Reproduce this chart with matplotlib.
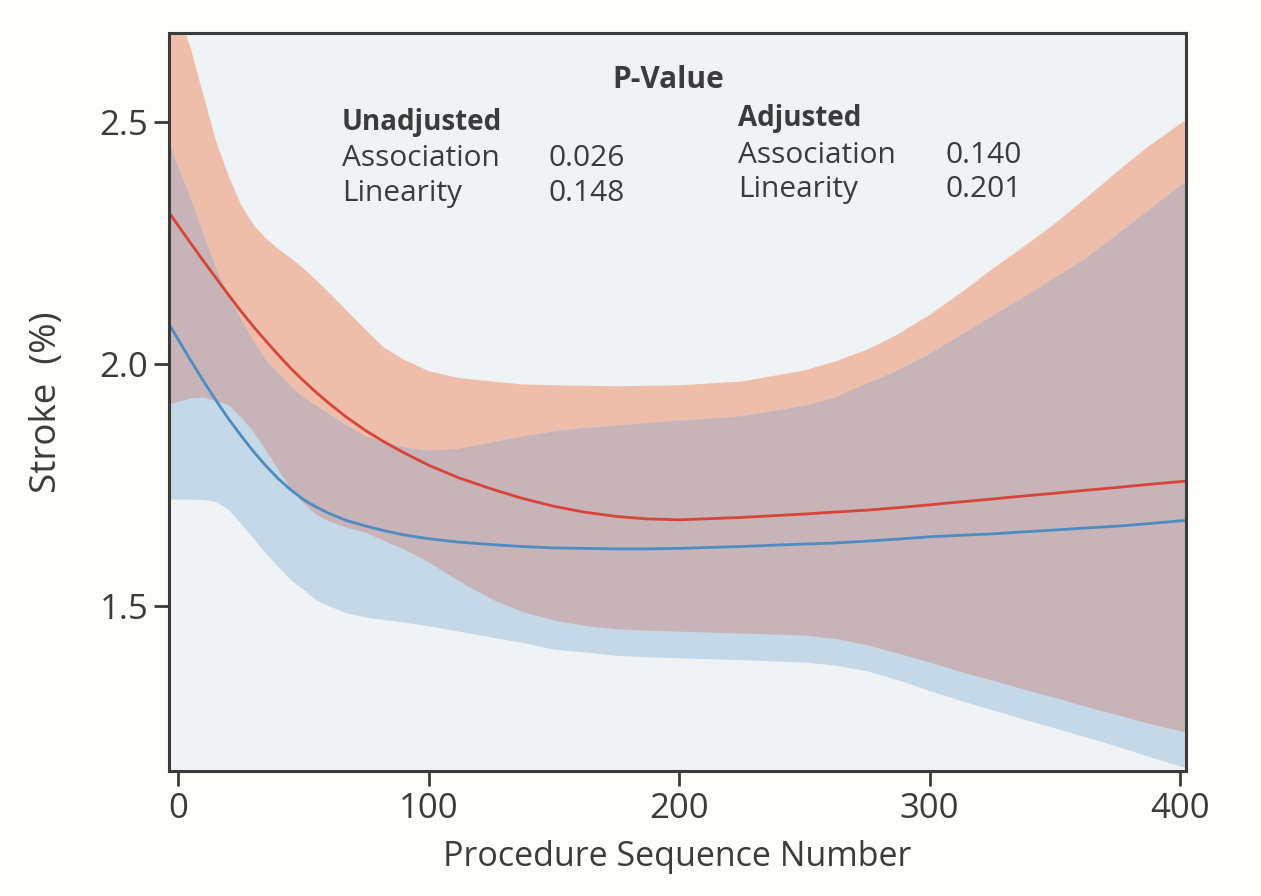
import numpy as np
import matplotlib
matplotlib.use("Agg")
import matplotlib.pyplot as plt

plt.rcParams['font.family'] = ['Open Sans', 'DejaVu Sans']

# procedure sequence number
seq = [-4, 5, 10, 15, 20, 25, 30, 35, 40, 45, 50, 55, 60, 67, 75, 82, 90, 100,
       112, 125, 137, 150, 162, 175, 187, 200, 225, 250, 262, 275, 287, 300,
       312, 325, 337, 350, 362, 375, 387, 400, 402]

# red curve (unadjusted) and its confidence band
red_fit = [2.316, 2.250, 2.214, 2.179, 2.144, 2.110, 2.078, 2.048, 2.019, 1.991,
           1.966, 1.942, 1.920, 1.891, 1.862, 1.840, 1.817, 1.791, 1.765, 1.742,
           1.723, 1.706, 1.694, 1.685, 1.680, 1.678, 1.683, 1.690, 1.694, 1.698,
           1.703, 1.709, 1.715, 1.721, 1.727, 1.733, 1.739, 1.745, 1.751, 1.757,
           1.758]
red_hi = [2.791, 2.651, 2.556, 2.461, 2.390, 2.330, 2.288, 2.260, 2.238, 2.219,
          2.198, 2.174, 2.149, 2.112, 2.070, 2.035, 2.010, 1.986, 1.972, 1.965,
          1.959, 1.957, 1.956, 1.955, 1.956, 1.957, 1.965, 1.988, 2.006, 2.031,
          2.062, 2.103, 2.147, 2.198, 2.242, 2.292, 2.343, 2.400, 2.450, 2.498,
          2.504]
red_lo = [1.917, 1.930, 1.932, 1.924, 1.916, 1.891, 1.860, 1.822, 1.781, 1.742,
          1.713, 1.690, 1.676, 1.663, 1.652, 1.636, 1.618, 1.591, 1.552, 1.515,
          1.489, 1.471, 1.460, 1.453, 1.450, 1.448, 1.444, 1.440, 1.433, 1.420,
          1.403, 1.384, 1.365, 1.347, 1.329, 1.311, 1.293, 1.275, 1.258, 1.242,
          1.240]

# blue curve (adjusted) and its confidence band
blue_fit = [2.086, 2.008, 1.966, 1.926, 1.888, 1.853, 1.820, 1.790, 1.763, 1.740,
            1.720, 1.705, 1.692, 1.677, 1.665, 1.656, 1.647, 1.639, 1.632, 1.627,
            1.623, 1.620, 1.619, 1.618, 1.618, 1.619, 1.623, 1.628, 1.630, 1.634,
            1.638, 1.643, 1.646, 1.649, 1.653, 1.657, 1.661, 1.665, 1.670, 1.676,
            1.676]
blue_hi = [2.461, 2.341, 2.269, 2.198, 2.143, 2.093, 2.048, 2.008, 1.981, 1.954,
           1.932, 1.915, 1.898, 1.875, 1.851, 1.841, 1.829, 1.822, 1.826, 1.839,
           1.851, 1.862, 1.869, 1.874, 1.879, 1.884, 1.893, 1.915, 1.932, 1.961,
           1.988, 2.023, 2.060, 2.101, 2.138, 2.180, 2.219, 2.270, 2.318, 2.370,
           2.376]
blue_lo = [1.721, 1.721, 1.720, 1.716, 1.700, 1.671, 1.640, 1.609, 1.581, 1.554,
           1.534, 1.513, 1.501, 1.486, 1.477, 1.472, 1.467, 1.459, 1.448, 1.436,
           1.425, 1.411, 1.405, 1.398, 1.395, 1.393, 1.389, 1.384, 1.378, 1.366,
           1.348, 1.325, 1.305, 1.286, 1.267, 1.248, 1.230, 1.210, 1.190, 1.169,
           1.167]

x_ticks = [0, 100, 200, 300, 400]
y_ticks = [1.5, 2.0, 2.5]
y_ticklabels = ["1.5", "2.0", "2.5"]

# p-value table
p_rows = ["Association", "Linearity"]
p_unadj = ["0.026", "0.148"]
p_adj = ["0.140", "0.201"]

dark = '#3b3b3b'
salmon = '#efbeaa'
skyband = '#c5d8e7'
overlap = '#c8b3b8'

fig = plt.figure(figsize=(12.61, 8.96), dpi=100, facecolor='#fdfdf9')
ax = fig.add_axes([0.134, 0.1395, 0.8065, 0.8237])
ax.set_facecolor('#eff3f5')

x = np.array(seq)
ax.fill_between(x, red_lo, red_hi, color=salmon, lw=0, zorder=1)
ax.fill_between(x, blue_lo, blue_hi, color=skyband, lw=0, zorder=1)
ax.fill_between(x, np.maximum(red_lo, blue_lo), np.minimum(red_hi, blue_hi),
                color=overlap, lw=0, zorder=2)
ax.plot(x, red_fit, color='#d8443a', lw=2.0, zorder=3, solid_joinstyle='round')
ax.plot(x, blue_fit, color='#4d8cc0', lw=2.0, zorder=3, solid_joinstyle='round')

ax.set_xlim(-3.6, 402.3)
ax.set_ylim(1.159, 2.684)
ax.set_xticks(x_ticks)
ax.set_yticks(y_ticks)
ax.set_yticklabels(y_ticklabels)

for s in ax.spines.values():
    s.set_color(dark)
    s.set_linewidth(2.2)
    s.set_zorder(5)
ax.tick_params(direction='out', length=11, width=2, color=dark,
               labelcolor=dark, labelsize=25, pad=4)

ax.set_xlabel("Procedure Sequence Number", fontsize=24.5, color=dark, labelpad=10)
ax.set_ylabel("Stroke  (%)", fontsize=26.5, color=dark, labelpad=25)

# p-value annotation
tkw = dict(color=dark, va='center', zorder=6)
ax.text(195.5, 2.587, "P-Value", ha='center', fontweight='bold', fontsize=21.5, **tkw)
ax.text(65.4, 2.500, "Unadjusted", ha='left', fontweight='bold', fontsize=20, **tkw)
ax.text(223.5, 2.508, "Adjusted", ha='left', fontweight='bold', fontsize=20, **tkw)
row_y_unadj = [2.424, 2.353]
row_y_adj = [2.430, 2.360]
for i, name in enumerate(p_rows):
    ax.text(65.4, row_y_unadj[i], name, ha='left', fontsize=21.5, **tkw)
    ax.text(148.0, row_y_unadj[i], p_unadj[i], ha='left', fontsize=21.5, **tkw)
    ax.text(223.5, row_y_adj[i], name, ha='left', fontsize=21.5, **tkw)
    ax.text(306.5, row_y_adj[i], p_adj[i], ha='left', fontsize=21.5, **tkw)

fig.savefig("out.png", dpi=100, facecolor=fig.get_facecolor())
